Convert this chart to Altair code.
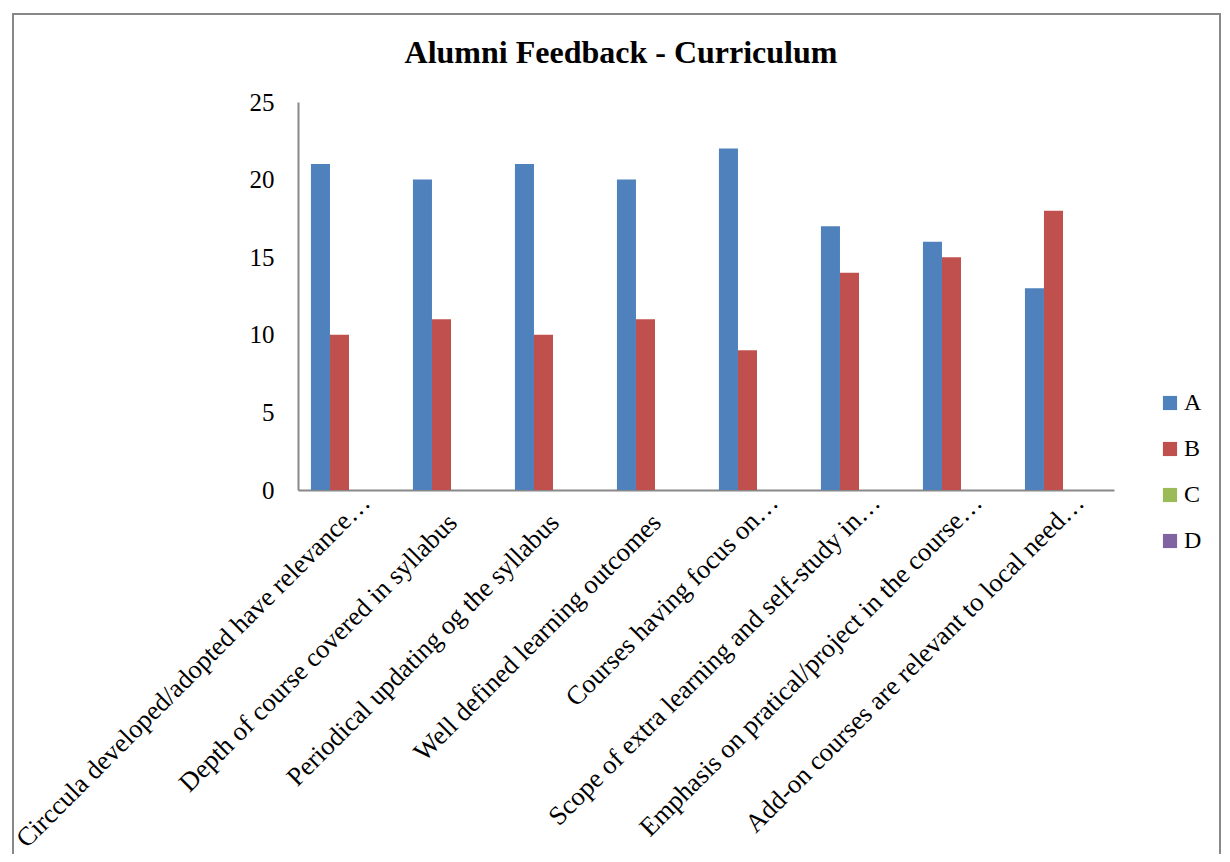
import altair as alt
import pandas as pd

title_text = "Alumni Feedback - Curriculum"
categories = [
    "Circcula developed/adopted have relevance…",
    "Depth of course covered in syllabus",
    "Periodical updating og the syllabus",
    "Well defined learning outcomes",
    "Courses having focus on…",
    "Scope of extra learning and self-study in…",
    "Emphasis on pratical/project in the course…",
    "Add-on courses are relevant to local need…",
]
series_names = ["A", "B", "C", "D"]
values_A = [21, 20, 21, 20, 22, 17, 16, 13]
values_B = [10, 11, 10, 11, 9, 14, 15, 18]
values_C = [0, 0, 0, 0, 0, 0, 0, 0]
values_D = [0, 0, 0, 0, 0, 0, 0, 0]
colors = ["#4F81BD", "#C0504D", "#9BBB59", "#8064A2"]
y_ticks = [0, 5, 10, 15, 20, 25]

rows = []
for s, vals in zip(series_names, [values_A, values_B, values_C, values_D]):
    for c, v in zip(categories, vals):
        rows.append({"category": c, "series": s, "value": v})
df = pd.DataFrame(rows)

FONT = "Liberation Serif"
W, H = 816, 388
no_ellipsis = "indexof(datum.label, '…') < 0"

bars = alt.Chart(df).mark_bar(stroke=None).encode(
    x=alt.X("category:N", sort=categories,
            scale=alt.Scale(paddingInner=0, paddingOuter=0),
            axis=alt.Axis(title=None, labelAngle=-45, labelAlign="right",
                          labelBaseline="middle", labelLimit=0,
                          labelPadding={"condition": {"test": no_ellipsis, "value": 28}, "value": 8},
                          labelOffset={"condition": {"test": no_ellipsis, "value": 2}, "value": 17},
                          ticks=False, labelFontSize=26.5,
                          labelFont=FONT, labelColor="black",
                          domainColor="#888888", domainWidth=2)),
    xOffset=alt.XOffset("series:N", sort=series_names,
                        scale=alt.Scale(paddingOuter=0.68, paddingInner=0)),
    y=alt.Y("value:Q", scale=alt.Scale(domain=[0, 25], nice=False),
            axis=alt.Axis(title=None, values=y_ticks, grid=False, ticks=False,
                          labelPadding=24, labelFontSize=25, labelFont=FONT,
                          labelColor="black", domainColor="#888888", domainWidth=2)),
    color=alt.Color("series:N", sort=series_names,
                    scale=alt.Scale(domain=series_names, range=colors),
                    legend=alt.Legend(title=None, orient="none", legendX=860, legendY=289,
                                      symbolType="square", symbolSize=200,
                                      symbolStrokeWidth=0, labelFontSize=24,
                                      labelFont=FONT, labelColor="black",
                                      rowPadding=22, labelOffset=2)),
)

frame = alt.Chart(pd.DataFrame({"f": [0]})).mark_rect(
    fill=None, stroke="#888888", strokeWidth=2, clip=False
).encode(
    x=alt.value(-285), x2=alt.value(922),
    y=alt.value(-88), y2=alt.value(800),
)

title = alt.Chart(pd.DataFrame({"t": [title_text]})).mark_text(
    font=FONT, fontSize=32, fontWeight="bold", color="black",
    align="center", baseline="alphabetic"
).encode(
    text="t:N", x=alt.value(323), y=alt.value(-39),
)

chart = alt.layer(bars, frame, title).properties(
    width=W, height=H,
    autosize=alt.AutoSizeParams(type="none"),
    padding={"left": 290, "top": 94, "right": 108, "bottom": 364},
).configure_view(stroke=None)

chart.save("out.html", embed_options={"renderer": "svg", "actions": False})
